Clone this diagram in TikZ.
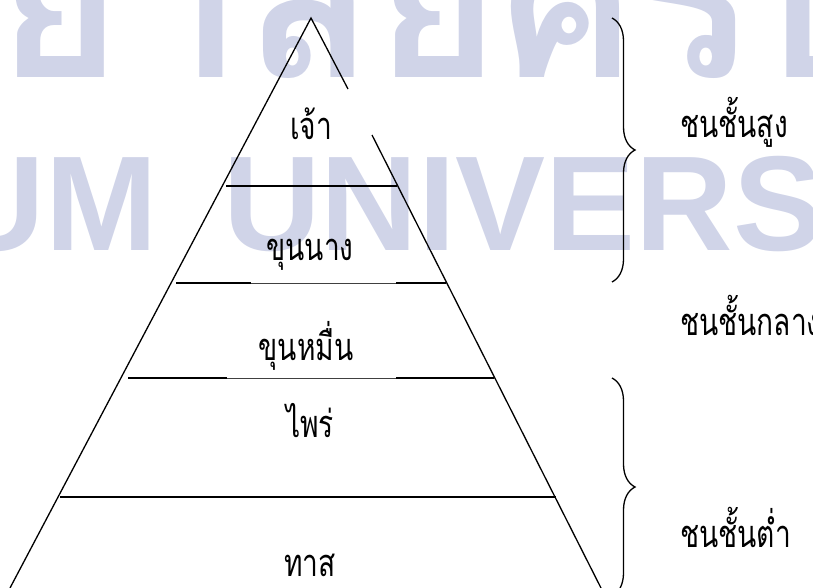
\documentclass[tikz,border=0pt]{standalone}
\usepackage{fontspec}
\usetikzlibrary{decorations.pathreplacing}
\newfontfamily\thaifont[Script=Thai,FakeStretch=0.74]{Loma}
\newfontfamily\thaiwm[Script=Thai]{Loma}
\newfontfamily\wmsans{Liberation Sans}
\definecolor{wm}{RGB}{208,212,232}
\begin{document}
\begin{tikzpicture}[x=1pt,y=-1pt,
  edge/.style={line width=1.3pt,black},
  midline/.style={line width=0.7pt,black!75},
  bracestyle/.style={decorate,decoration={brace,amplitude=23pt},line width=1.3pt},
  lab/.style={font=\thaifont\fontsize{38}{40}\selectfont,anchor=base,inner sep=0pt},
  side/.style={font=\thaifont\fontsize{38}{40}\selectfont,anchor=base west,inner sep=0pt},
  wmthai/.style={font=\thaiwm\bfseries\fontsize{215}{220}\selectfont,text=wm,inner sep=0pt},
  wmlatin/.style={font=\wmsans\bfseries\fontsize{135}{140}\selectfont,text=wm,inner sep=0pt}]
\useasboundingbox (0,0) rectangle (813,588);
% watermark
\begin{scope}
\clip (0,0) rectangle (813,588);
\node[wmthai,anchor=base east] (wt1) at (-4,78) {มหาวิท};
\node[wmthai,anchor=base west] (wt2) at (-4,78) {ยาลัยศรีปทุม};
\node[wmlatin,anchor=base east] (wl1) at (158,250) {SRIPATUM};
\node[wmlatin,anchor=base west] (wl2) at (223,250) {UNIVERSITY};
\end{scope}
% pyramid
\coordinate (apex) at (311,18);
\coordinate (lb) at (10,588);
\coordinate (ru) at (348,89);
\coordinate (rt) at (372,135);
\coordinate (rb) at (601,588);
\draw[edge] (lb) -- (apex) -- (ru);
\draw[edge] (rt) -- (rb);
% layer lines
\coordinate (l1a) at (226,186); \coordinate (l1b) at (397,186);
\draw[edge] (l1a) -- (l1b);
\coordinate (l2a) at (176,283); \coordinate (l2m) at (251,283);
\coordinate (l2n) at (396,283); \coordinate (l2b) at (446,283);
\draw[midline] (l2m) -- (l2n);
\draw[edge] (l2a) -- (l2m);
\draw[edge] (l2n) -- (l2b);
\coordinate (l3a) at (128,378); \coordinate (l3m) at (227,378);
\coordinate (l3n) at (396,378); \coordinate (l3b) at (494,378);
\draw[midline] (l3m) -- (l3n);
\draw[edge] (l3a) -- (l3m);
\draw[edge] (l3n) -- (l3b);
\coordinate (l4a) at (60,497); \coordinate (l4b) at (556,497);
\draw[edge] (l4a) -- (l4b);
% layer labels
\node[lab] (t1) at (311,140) {เจ้า};
\node[lab] (t2) at (310,260) {ขุนนาง};
\node[lab] (t3) at (306,360) {ขุนหมื่น};
\node[lab] (t4) at (310,437) {ไพร่};
\node[lab] (t5) at (310,576) {ทาส};
% braces
\coordinate (b1t) at (612,18); \coordinate (b1b) at (612,282);
\coordinate (b2t) at (612,378); \coordinate (b2b) at (612,596);
\draw[bracestyle] (b1t) -- (b1b);
\draw[bracestyle] (b2t) -- (b2b);
% class labels
\node[side] (c1) at (680,138) {ชนชั้นสูง};
\node[side] (c2) at (680,335) {ชนชั้นกลาง};
\node[side] (c3) at (680,547) {ชนชั้นต่ำ};
\end{tikzpicture}
\end{document}
